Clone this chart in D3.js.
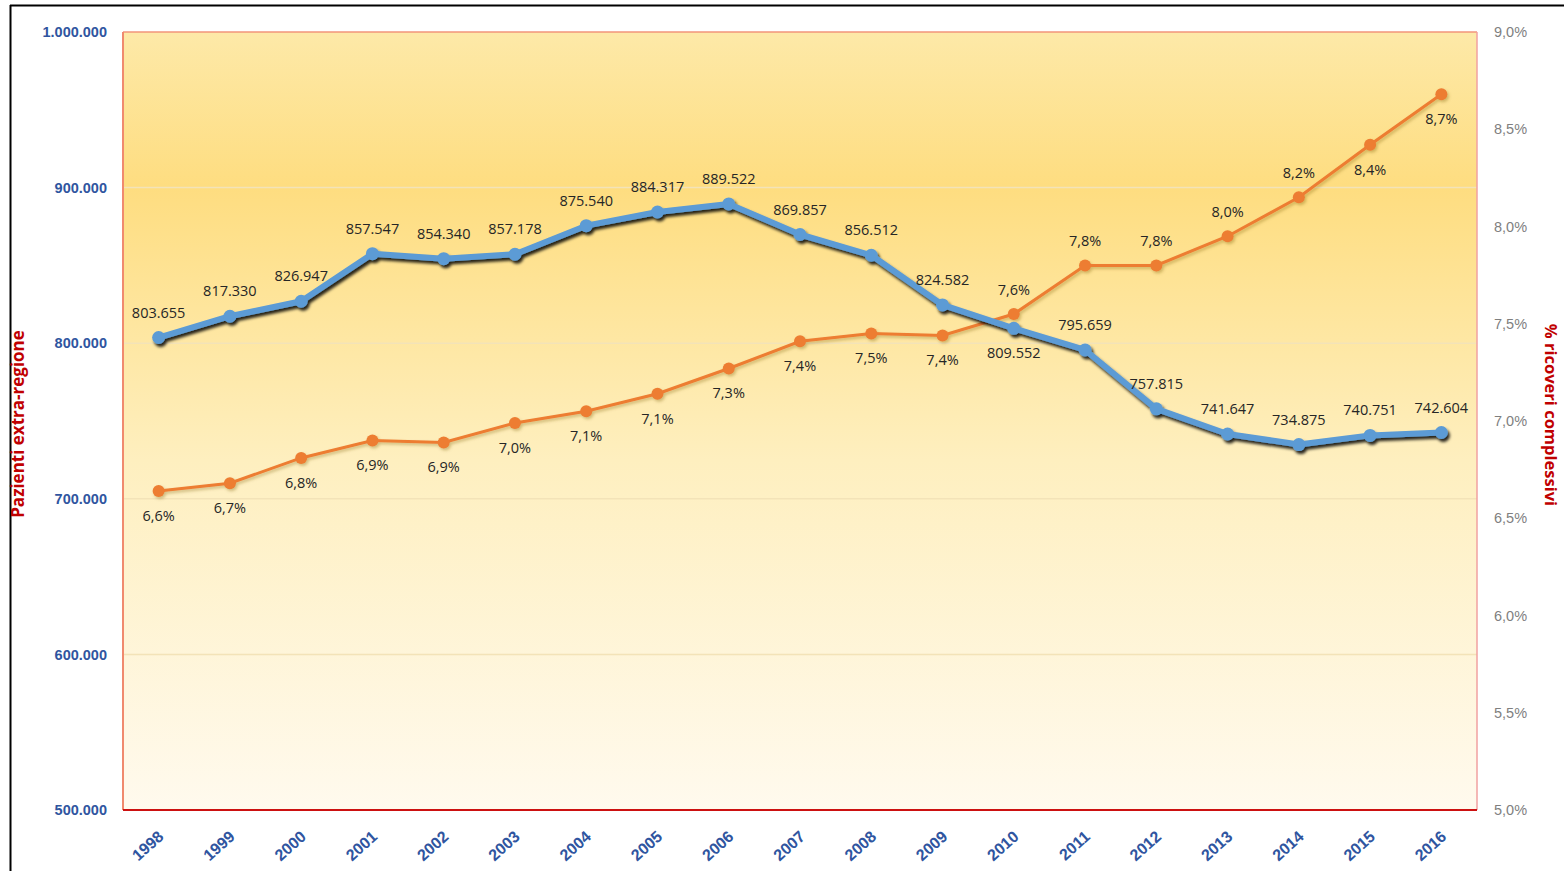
<!DOCTYPE html>
<html>
<head>
<meta charset="utf-8">
<script src="https://cdn.jsdelivr.net/npm/d3@7"></script>
<style>
  body { margin: 0; background: #fff; }
  svg { font-family: "Open Sans", "Liberation Sans", sans-serif; }
</style>
</head>
<body>
<div id="chart"></div>
<script>
// Data
const years = ["1998","1999","2000","2001","2002","2003","2004","2005","2006","2007",
  "2008","2009","2010","2011","2012","2013","2014","2015","2016"];
const patients = [803655, 817330, 826947, 857547, 854340, 857178, 875540, 884317, 889522,
  869857, 856512, 824582, 809552, 795659, 757815, 741647, 734875, 740751, 742604];
const shares = [6.64, 6.68, 6.81, 6.90, 6.89, 6.99, 7.05, 7.14, 7.27, 7.41,
  7.45, 7.44, 7.55, 7.80, 7.80, 7.95, 8.15, 8.42, 8.68];
const shareLabels = ["6,6%","6,7%","6,8%","6,9%","6,9%","7,0%","7,1%","7,1%","7,3%","7,4%",
  "7,5%","7,4%","7,6%","7,8%","7,8%","8,0%","8,2%","8,4%","8,7%"];
const leftTicks = [500000, 600000, 700000, 800000, 900000, 1000000];
const rightTicks = [5.0, 5.5, 6.0, 6.5, 7.0, 7.5, 8.0, 8.5, 9.0];

// label above (-1) or below (+1) the point
const patientsLabelSide = [-1,-1,-1,-1,-1,-1,-1,-1,-1,-1,-1,-1,1,-1,-1,-1,-1,-1,-1];
const sharesLabelSide = [1,1,1,1,1,1,1,1,1,1,1,1,-1,-1,-1,-1,-1,1,1];

// Dimensions
const dimensions = { width: 1564, height: 871, left: 123, right: 1477, top: 32, bottom: 810 };

const svg = d3.select("#chart").append("svg")
  .attr("width", dimensions.width)
  .attr("height", dimensions.height);

const defs = svg.append("defs");
const grad = defs.append("linearGradient").attr("id", "bg")
  .attr("x1", 0).attr("y1", 0).attr("x2", 0).attr("y2", 1);
grad.append("stop").attr("offset", "0%").attr("stop-color", "#fde9a8");
grad.append("stop").attr("offset", "20%").attr("stop-color", "#fedd80");
grad.append("stop").attr("offset", "55%").attr("stop-color", "#feefbf");
grad.append("stop").attr("offset", "100%").attr("stop-color", "#fffaee");

const shadow = defs.append("filter").attr("id", "shadow")
  .attr("x", "-5%").attr("y", "-20%").attr("width", "110%").attr("height", "140%");
shadow.append("feDropShadow").attr("dx", 2).attr("dy", 3).attr("stdDeviation", 1.5)
  .attr("flood-color", "#000").attr("flood-opacity", 0.85);
const shadowLight = defs.append("filter").attr("id", "shadowLight")
  .attr("x", "-5%").attr("y", "-20%").attr("width", "110%").attr("height", "140%");
shadowLight.append("feDropShadow").attr("dx", 1.5).attr("dy", 2).attr("stdDeviation", 1.5)
  .attr("flood-color", "#7a5a00").attr("flood-opacity", 0.35);

// frame of the picture
svg.append("line").attr("x1", 10).attr("x2", 1564).attr("y1", 5.5).attr("y2", 5.5)
  .attr("stroke", "#000").attr("stroke-width", 2);
svg.append("line").attr("x1", 10.5).attr("x2", 10.5).attr("y1", 5).attr("y2", 871)
  .attr("stroke", "#000").attr("stroke-width", 2);

// Scales
const xScale = d3.scaleBand().domain(years)
  .range([dimensions.left, dimensions.right]);
const xPos = (d) => xScale(d) + xScale.bandwidth() / 2;
const yLeft = d3.scaleLinear().domain([500000, 1000000])
  .range([dimensions.bottom, dimensions.top]);
const yRight = d3.scaleLinear().domain([5, 9])
  .range([dimensions.bottom, dimensions.top]);

// Plot area
svg.append("rect")
  .attr("x", dimensions.left).attr("y", dimensions.top)
  .attr("width", dimensions.right - dimensions.left)
  .attr("height", dimensions.bottom - dimensions.top)
  .attr("fill", "url(#bg)");

// gridlines
svg.append("g").selectAll("line")
  .data(leftTicks.slice(1, -1))
  .join("line")
  .attr("x1", dimensions.left).attr("x2", dimensions.right)
  .attr("y1", (d) => yLeft(d)).attr("y2", (d) => yLeft(d))
  .attr("stroke", "#f3e3b8").attr("stroke-width", 1.5);

// borders
svg.append("line").attr("x1", dimensions.left).attr("x2", dimensions.right)
  .attr("y1", dimensions.top).attr("y2", dimensions.top)
  .attr("stroke", "#f2957a").attr("stroke-width", 1.5);
svg.append("line").attr("x1", dimensions.left).attr("x2", dimensions.left)
  .attr("y1", dimensions.top).attr("y2", dimensions.bottom)
  .attr("stroke", "#f08a6e").attr("stroke-width", 2);
svg.append("line").attr("x1", dimensions.right).attr("x2", dimensions.right)
  .attr("y1", dimensions.top).attr("y2", dimensions.bottom)
  .attr("stroke", "#f0a0a0").attr("stroke-width", 1.5);
svg.append("line").attr("x1", dimensions.left).attr("x2", dimensions.right)
  .attr("y1", dimensions.bottom).attr("y2", dimensions.bottom)
  .attr("stroke", "#cc1111").attr("stroke-width", 2);

// Axes
const fmtLeft = (d) => d3.format(",")(d).replace(/,/g, ".");
const leftAxis = d3.axisLeft(yLeft).tickValues(leftTicks).tickFormat(fmtLeft).tickSize(0).tickPadding(16);
const leftG = svg.append("g").attr("transform", `translate(${dimensions.left},0)`).call(leftAxis);
leftG.select(".domain").remove();
leftG.selectAll("text").attr("fill", "#2f55a0").attr("font-size", 14.5).attr("font-weight", "bold");

const fmtRight = (d) => d.toFixed(1).replace(".", ",") + "%";
const rightAxis = d3.axisRight(yRight).tickValues(rightTicks).tickFormat(fmtRight).tickSize(0).tickPadding(17);
const rightG = svg.append("g").attr("transform", `translate(${dimensions.right},0)`).call(rightAxis);
rightG.select(".domain").remove();
rightG.selectAll("text").attr("fill", "#7f7f7f").attr("font-size", 14.5);

const xAxis = d3.axisBottom(xScale).tickSize(0).tickPadding(0);
const xG = svg.append("g").attr("transform", `translate(0,${dimensions.bottom})`).call(xAxis);
xG.select(".domain").remove();
xG.selectAll("text")
  .attr("fill", "#2f55a0").attr("font-size", 16).attr("font-weight", "bold")
  .attr("text-anchor", "end")
  .attr("dy", 0)
  .attr("transform", "translate(6,28) rotate(-42)");

// Axis titles
svg.append("text")
  .attr("transform", `translate(24,${(dimensions.top + dimensions.bottom) / 2 + 3}) rotate(-90)`)
  .attr("text-anchor", "middle")
  .attr("fill", "#c00000").attr("font-size", 17).attr("font-weight", "bold")
  .text("Pazienti extra-regione");
svg.append("text")
  .attr("transform", `translate(1545,${(dimensions.top + dimensions.bottom) / 2 - 6}) rotate(90)`)
  .attr("text-anchor", "middle")
  .attr("fill", "#c00000").attr("font-size", 16.5).attr("font-weight", "bold")
  .text("% ricoveri complessivi");

// Orange line (share)
const shareLine = d3.line().x((d, i) => xPos(years[i])).y((d) => yRight(d));
const orangeG = svg.append("g").attr("filter", "url(#shadowLight)");
orangeG.append("path").datum(shares)
  .attr("d", shareLine).attr("fill", "none")
  .attr("stroke", "#ed7d31").attr("stroke-width", 3);
orangeG.selectAll("circle").data(shares).join("circle")
  .attr("cx", (d, i) => xPos(years[i])).attr("cy", (d) => yRight(d))
  .attr("r", 6).attr("fill", "#ed7d31");

// Blue line (patients)
const patientsLine = d3.line().x((d, i) => xPos(years[i])).y((d) => yLeft(d));
const blueG = svg.append("g").attr("filter", "url(#shadow)");
blueG.append("path").datum(patients)
  .attr("d", patientsLine).attr("fill", "none")
  .attr("stroke", "#5b9bd5").attr("stroke-width", 6).attr("stroke-linejoin", "round");
blueG.selectAll("circle").data(patients).join("circle")
  .attr("cx", (d, i) => xPos(years[i])).attr("cy", (d) => yLeft(d))
  .attr("r", 6.5).attr("fill", "#5b9bd5");

// Data labels
svg.append("g").selectAll("text").data(patients).join("text")
  .attr("x", (d, i) => xPos(years[i]))
  .attr("y", (d, i) => yLeft(d) + (patientsLabelSide[i] < 0 ? -20 : 30))
  .attr("text-anchor", "middle")
  .attr("fill", "#262626").attr("font-size", 14.5)
  .text((d) => fmtLeft(d));

svg.append("g").selectAll("text").data(shares).join("text")
  .attr("x", (d, i) => xPos(years[i]))
  .attr("y", (d, i) => yRight(d) + (sharesLabelSide[i] < 0 ? -19 : 30))
  .attr("text-anchor", "middle")
  .attr("fill", "#262626").attr("font-size", 14.5)
  .text((d, i) => shareLabels[i]);
</script>
</body>
</html>
